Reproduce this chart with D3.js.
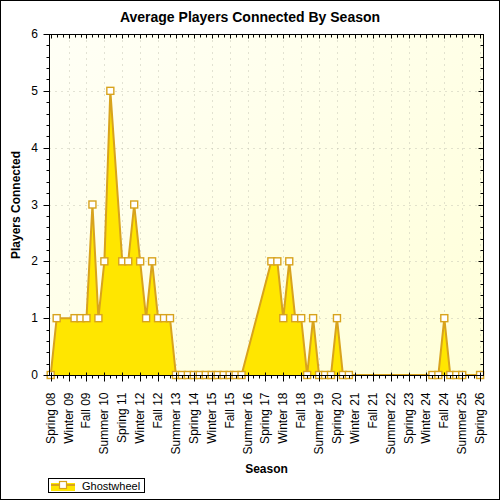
<!DOCTYPE html>
<html lang="en">
<head>
  <meta charset="UTF-8">
  <title>Average Players Connected By Season</title>
  <script src="https://d3js.org/d3.v7.min.js"></script>
  <style>
    body { margin: 0; }
    text { font-family: "Liberation Sans", Arial, sans-serif; }
  </style>
</head>
<body>
<script>
  // season categories, Spring 08 .. Spring 26
  const seasons = [
    "Spring 08", "Summer 08", "Fall 08",
    "Winter 09", "Spring 09", "Summer 09", "Fall 09",
    "Winter 10", "Spring 10", "Summer 10", "Fall 10",
    "Winter 11", "Spring 11", "Summer 11", "Fall 11",
    "Winter 12", "Spring 12", "Summer 12", "Fall 12",
    "Winter 13", "Spring 13", "Summer 13", "Fall 13",
    "Winter 14", "Spring 14", "Summer 14", "Fall 14",
    "Winter 15", "Spring 15", "Summer 15", "Fall 15",
    "Winter 16", "Spring 16", "Summer 16", "Fall 16",
    "Winter 17", "Spring 17", "Summer 17", "Fall 17",
    "Winter 18", "Spring 18", "Summer 18", "Fall 18",
    "Winter 19", "Spring 19", "Summer 19", "Fall 19",
    "Winter 20", "Spring 20", "Summer 20", "Fall 20",
    "Winter 21", "Spring 21", "Summer 21", "Fall 21",
    "Winter 22", "Spring 22", "Summer 22", "Fall 22",
    "Winter 23", "Spring 23", "Summer 23", "Fall 23",
    "Winter 24", "Spring 24", "Summer 24", "Fall 24",
    "Winter 25", "Spring 25", "Summer 25", "Fall 25",
    "Winter 26", "Spring 26"
  ];

  // Ghostwheel, null = no data for that season
  const ghostwheel = [
    0, 1, null,
    null, 1, 1, 1,
    3, 1, 2, 5,
    null, 2, 2, 3,
    2, 1, 2, 1,
    1, 1, 0, 0,
    0, 0, 0, 0,
    0, 0, 0, 0,
    0, 0, null, null,
    null, null, 2, 2,
    1, 2, 1, 1,
    0, 1, 0, 0,
    0, 1, 0, 0,
    null, null, null, null,
    null, null, null, null,
    null, null, null, null,
    null, 0, 0, 1,
    0, 0, 0, null,
    null, 0
  ];

  const yTicks = [0, 1, 2, 3, 4, 5, 6];
  const seriesName = "Ghostwheel";

  const width = 500, height = 500;
  const plot = {left: 49.5, right: 483.5, top: 34.5, bottom: 375.5};

  const lineColor = "#d8a31d", fillColor = "#ffe600";

  const svg = d3.select("body").append("svg")
          .attr("width", width)
          .attr("height", height);

  // outer frame
  svg.append("rect")
          .attr("x", 0.5).attr("y", 0.5)
          .attr("width", width - 1).attr("height", height - 1)
          .attr("fill", "white").attr("stroke", "black");

  const defs = svg.append("defs");
  const grad = defs.append("linearGradient").attr("id", "bg")
          .attr("x1", "0%").attr("y1", "0%").attr("x2", "100%").attr("y2", "100%");
  grad.append("stop").attr("offset", "0%").attr("stop-color", "#fffff6");
  grad.append("stop").attr("offset", "100%").attr("stop-color", "#ffffd8");

  svg.append("rect")
          .attr("x", plot.left).attr("y", plot.top)
          .attr("width", plot.right - plot.left).attr("height", plot.bottom - plot.top)
          .attr("fill", "url(#bg)");

  const x = d3.scalePoint().domain(seasons).range([50.7, 480.1]);
  const y = d3.scaleLinear().domain([0, 6]).range([plot.bottom - 0.5, plot.top - 0.5]);

  const majorSeasons = seasons.filter((s, i) => i % 3 === 0);

  // grid
  const grid = svg.append("g").attr("stroke", "#c4c4b4").attr("stroke-dasharray", "1,5");
  grid.selectAll("line.h").data(yTicks.slice(1, -1)).enter().append("line")
          .attr("x1", plot.left).attr("x2", plot.right)
          .attr("y1", d => Math.round(y(d)) + 0.5).attr("y2", d => Math.round(y(d)) + 0.5);
  grid.selectAll("line.v").data(majorSeasons.slice(1)).enter().append("line")
          .attr("y1", plot.top).attr("y2", plot.bottom)
          .attr("x1", d => Math.round(x(d)) + 0.5).attr("x2", d => Math.round(x(d)) + 0.5);

  // series
  const pts = seasons.map((s, i) => ({s: s, v: ghostwheel[i]})).filter(d => d.v !== null);

  const area = d3.area().x(d => x(d.s)).y0(y(0)).y1(d => y(d.v));
  const line = d3.line().x(d => x(d.s)).y(d => y(d.v));

  svg.append("path").datum(pts).attr("d", area).attr("fill", fillColor);
  svg.append("path").datum(pts).attr("d", line)
          .attr("fill", "none").attr("stroke", lineColor).attr("stroke-width", 2);

  svg.append("g").selectAll("rect").data(pts).enter().append("rect")
          .attr("x", d => x(d.s) - 3.5).attr("y", d => y(d.v) - 3.5)
          .attr("width", 7).attr("height", 7)
          .attr("fill", "white").attr("stroke", lineColor).attr("stroke-width", 1.4);

  // plot border
  svg.append("rect")
          .attr("x", plot.left).attr("y", plot.top)
          .attr("width", plot.right - plot.left).attr("height", plot.bottom - plot.top)
          .attr("fill", "none").attr("stroke", "black");

  // tick marks
  const ticks = svg.append("g").attr("stroke", "black");
  const yMinor = d3.range(0, 6.001, 0.2);
  ticks.selectAll("line.yl").data(yMinor).enter().append("line")
          .attr("y1", d => Math.round(y(d)) + 0.5).attr("y2", d => Math.round(y(d)) + 0.5)
          .attr("x1", d => Math.abs(d - Math.round(d)) < 1e-6 ? plot.left - 6 : plot.left - 3)
          .attr("x2", plot.left);
  ticks.selectAll("line.yr").data(yMinor).enter().append("line")
          .attr("y1", d => Math.round(y(d)) + 0.5).attr("y2", d => Math.round(y(d)) + 0.5)
          .attr("x1", d => Math.abs(d - Math.round(d)) < 1e-6 ? plot.right - 5 : plot.right - 3)
          .attr("x2", plot.right);
  ticks.selectAll("line.xb").data(seasons).enter().append("line")
          .attr("x1", d => Math.round(x(d)) + 0.5).attr("x2", d => Math.round(x(d)) + 0.5)
          .attr("y1", (d, i) => i % 3 === 0 ? plot.bottom - 3 : plot.bottom)
          .attr("y2", (d, i) => i % 3 === 0 ? plot.bottom + 6 : plot.bottom + 3);
  ticks.selectAll("line.xt").data(seasons).enter().append("line")
          .attr("x1", d => Math.round(x(d)) + 0.5).attr("x2", d => Math.round(x(d)) + 0.5)
          .attr("y1", plot.top)
          .attr("y2", (d, i) => i % 3 === 0 ? plot.top + 4 : plot.top + 3);

  // tick labels
  svg.append("g").selectAll("text").data(yTicks).enter().append("text")
          .attr("x", 38).attr("y", d => y(d) + 4)
          .attr("text-anchor", "end").attr("font-size", 12)
          .text(d => d);

  svg.append("g").selectAll("text").data(majorSeasons).enter().append("text")
          .attr("transform", d => `translate(${x(d) + 4},${plot.bottom + 17}) rotate(-90)`)
          .attr("text-anchor", "end").attr("font-size", 12)
          .text(d => d);

  // titles
  svg.append("text").attr("x", 250).attr("y", 22)
          .attr("text-anchor", "middle").attr("font-size", 14).attr("font-weight", "bold")
          .text("Average Players Connected By Season");
  svg.append("text").attr("x", (plot.left + plot.right) / 2).attr("y", 473)
          .attr("text-anchor", "middle").attr("font-size", 12).attr("font-weight", "bold")
          .text("Season");
  svg.append("text")
          .attr("transform", `translate(20,${(plot.top + plot.bottom) / 2}) rotate(-90)`)
          .attr("text-anchor", "middle").attr("font-size", 12).attr("font-weight", "bold")
          .text("Players Connected");

  // legend
  const lg = svg.append("g");
  lg.append("rect").attr("x", 48.5).attr("y", 478.5).attr("width", 96).attr("height", 14)
          .attr("fill", "white").attr("stroke", "black");
  lg.append("rect").attr("x", 51).attr("y", 483).attr("width", 24).attr("height", 8).attr("fill", fillColor);
  lg.append("line").attr("x1", 51).attr("x2", 75).attr("y1", 485).attr("y2", 485)
          .attr("stroke", lineColor).attr("stroke-width", 2);
  lg.append("rect").attr("x", 59.5).attr("y", 481.5).attr("width", 7).attr("height", 7)
          .attr("fill", "white").attr("stroke", lineColor).attr("stroke-width", 1.2);
  lg.append("text").attr("x", 82).attr("y", 489.5).attr("font-size", 11).text(seriesName);
</script>
</body>
</html>
